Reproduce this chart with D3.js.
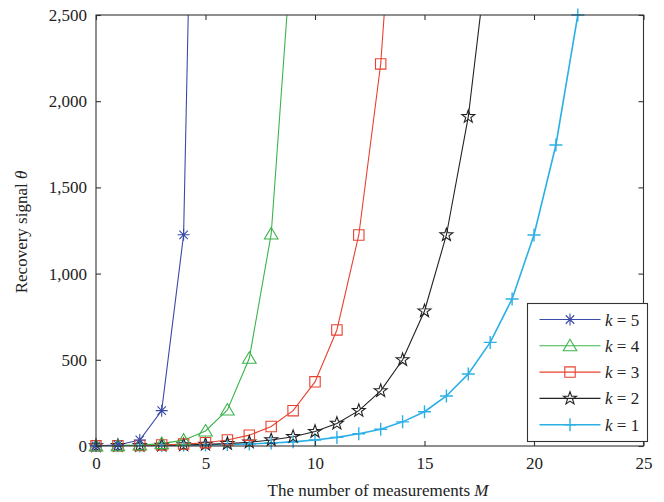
<!DOCTYPE html>
<html>
<head>
<meta charset="utf-8">
<script src="https://cdn.jsdelivr.net/npm/d3@7/dist/d3.min.js"></script>
<style>
  html, body { margin: 0; padding: 0; background: #fff; }
  svg { display: block; }
  text { font-family: "Liberation Serif", "Times New Roman", serif; fill: #222; }
</style>
</head>
<body>
<svg id="chart" width="664" height="502"></svg>
<script>
// Number of measurements M (x positions shared by every series)
const measurements = [0, 1, 2, 3, 4, 5, 6, 7, 8, 9, 10, 11, 12, 13, 14, 15, 16, 17, 18, 19, 20, 21, 22];

// Recovery signal θ for each sparsity level k (index = M)
const thetaK5 = [1, 6, 35, 205, 1225, 7250];
const thetaK4 = [1, 2.4, 6, 14, 34, 87, 209, 509, 1230, 3000];
const thetaK3 = [1, 1.8, 3.3, 6, 11, 19, 35, 63, 113, 205, 372, 673, 1224, 2216, 4010];
const thetaK2 = [1, 1.6, 2.4, 3.8, 5.9, 9.2, 14, 22, 35, 54, 84, 131, 205, 320, 500, 783, 1224, 1910, 2980];
const thetaK1 = [1, 1.4, 2, 2.9, 4.1, 5.9, 8.4, 12, 17, 24, 35, 50, 71, 97, 140, 199, 290, 418, 601, 853, 1224, 1746, 2500];

const seriesNames = ["5", "4", "3", "2", "1"];
const seriesColors = ["#3a4aa6", "#3cb44b", "#e8412f", "#222222", "#2bb0e6"];
const seriesMarkers = ["asterisk", "triangle", "square", "pentagram", "plus"];

const xTicks = [0, 5, 10, 15, 20, 25];
const yTicks = [0, 500, 1000, 1500, 2000, 2500];

const allSeries = [thetaK5, thetaK4, thetaK3, thetaK2, thetaK1].map((vals, i) => ({
  name: seriesNames[i],
  color: seriesColors[i],
  marker: seriesMarkers[i],
  width: i === 4 ? 1.6 : 1.1,
  points: vals.map((v, j) => ({ m: measurements[j], v: v }))
}));

const svg = d3.select("#chart");
const margin = { left: 96, right: 664 - 643.5, top: 15, bottom: 502 - 446 };
const W = 664 - margin.left - margin.right;
const H = 502 - margin.top - margin.bottom;

const x = d3.scaleLinear().domain([0, 25]).range([margin.left, margin.left + W]);
const y = d3.scaleLinear().domain([0, 2500]).range([margin.top + H, margin.top]);

// Marker shapes
function markerPath(type) {
  const p = d3.path();
  if (type === "asterisk") {
    const r = 6;
    for (let a = 0; a < 4; a++) {
      const ang = a * Math.PI / 4;
      p.moveTo(-r * Math.cos(ang), -r * Math.sin(ang));
      p.lineTo(r * Math.cos(ang), r * Math.sin(ang));
    }
  } else if (type === "triangle") {
    p.moveTo(0, -6.5); p.lineTo(6.8, 5); p.lineTo(-6.8, 5); p.closePath();
  } else if (type === "square") {
    p.rect(-5.2, -5.2, 10.4, 10.4);
  } else if (type === "pentagram") {
    const R = 6.8, r = 2.7;
    for (let i = 0; i < 10; i++) {
      const rad = i % 2 === 0 ? R : r;
      const ang = -Math.PI / 2 + i * Math.PI / 5;
      const px = rad * Math.cos(ang), py = rad * Math.sin(ang);
      if (i === 0) p.moveTo(px, py); else p.lineTo(px, py);
    }
    p.closePath();
  } else if (type === "plus") {
    const r = 6.5;
    p.moveTo(-r, 0); p.lineTo(r, 0);
    p.moveTo(0, -r); p.lineTo(0, r);
  }
  return p.toString();
}

svg.append("defs").append("clipPath").attr("id", "plotClip")
  .append("rect")
  .attr("x", margin.left).attr("y", margin.top)
  .attr("width", W).attr("height", H);

// Lines
const line = d3.line().x(d => x(d.m)).y(d => y(d.v));
const plot = svg.append("g");
plot.append("g").attr("clip-path", "url(#plotClip)")
  .selectAll("path.series")
  .data(allSeries.slice().reverse())
  .join("path")
  .attr("class", "series")
  .attr("d", d => line(d.points))
  .attr("fill", "none")
  .attr("stroke", d => d.color)
  .attr("stroke-width", d => d.width);

// Markers (only those inside the visible range)
allSeries.slice().reverse().forEach(s => {
  plot.append("g").selectAll("path")
    .data(s.points.filter(d => d.v <= 2500))
    .join("path")
    .attr("transform", d => `translate(${x(d.m)},${y(d.v)})`)
    .attr("d", markerPath(s.marker))
    .attr("fill", "none")
    .attr("stroke", s.color)
    .attr("stroke-width", s.marker === "plus" ? 1.4 : 1.1);
});

// Axes box with inward ticks on all four sides
const axisColor = "#333";
const tickLen = 5;
const axisG = svg.append("g");
axisG.append("rect")
  .attr("x", margin.left).attr("y", margin.top)
  .attr("width", W).attr("height", H)
  .attr("fill", "none").attr("stroke", axisColor).attr("stroke-width", 1.1);

const xAxisBottom = d3.axisBottom(x).tickValues(xTicks).tickSizeInner(-tickLen).tickSizeOuter(0).tickPadding(11).tickFormat(d3.format("d"));
const xAxisTop = d3.axisTop(x).tickValues(xTicks).tickSizeInner(-tickLen).tickSizeOuter(0).tickFormat("");
const yAxisLeft = d3.axisLeft(y).tickValues(yTicks).tickSizeInner(-tickLen).tickSizeOuter(0).tickPadding(9).tickFormat(d3.format(","));
const yAxisRight = d3.axisRight(y).tickValues(yTicks).tickSizeInner(-tickLen).tickSizeOuter(0).tickFormat("");

function styleAxis(g) {
  g.select(".domain").remove();
  g.selectAll(".tick line").attr("stroke", axisColor).attr("stroke-width", 1.1);
  g.selectAll(".tick text").attr("font-size", 17).attr("fill", "#222")
    .style("font-family", '"Liberation Serif", "Times New Roman", serif');
}

axisG.append("g").attr("transform", `translate(0,${margin.top + H})`).call(xAxisBottom).call(styleAxis);
axisG.append("g").attr("transform", `translate(0,${margin.top})`).call(xAxisTop).call(styleAxis);
axisG.append("g").attr("transform", `translate(${margin.left},0)`).call(yAxisLeft).call(styleAxis);
axisG.append("g").attr("transform", `translate(${margin.left + W},0)`).call(yAxisRight).call(styleAxis);

// Axis titles
const xTitle = svg.append("text")
  .attr("x", 378).attr("y", 496)
  .attr("text-anchor", "middle").attr("font-size", 17);
xTitle.append("tspan").text("The number of measurements ");
xTitle.append("tspan").attr("font-style", "italic").text("M");

const yTitle = svg.append("text")
  .attr("transform", "translate(27,232) rotate(-90)")
  .attr("text-anchor", "middle").attr("font-size", 17);
yTitle.append("tspan").text("Recovery signal ");
yTitle.append("tspan").attr("font-style", "italic").text("θ");

// Legend
const legend = svg.append("g");
const lgX = 527.5, lgY = 303.5, lgW = 120, lgH = 138;
legend.append("rect")
  .attr("x", lgX).attr("y", lgY).attr("width", lgW).attr("height", lgH)
  .attr("fill", "#fff").attr("stroke", axisColor).attr("stroke-width", 1.1);

allSeries.forEach((s, i) => {
  const cy = 319.5 + i * 26.3;
  const row = legend.append("g");
  row.append("line")
    .attr("x1", 539.5).attr("x2", 600.5).attr("y1", cy).attr("y2", cy)
    .attr("stroke", s.color).attr("stroke-width", s.width);
  row.append("path")
    .attr("transform", `translate(570,${cy})`)
    .attr("d", markerPath(s.marker))
    .attr("fill", "none").attr("stroke", s.color)
    .attr("stroke-width", s.marker === "plus" ? 1.4 : 1.1);
  const t = row.append("text")
    .attr("x", 605).attr("y", cy + 6).attr("font-size", 17);
  t.append("tspan").attr("font-style", "italic").text("k");
  t.append("tspan").text(" = " + s.name);
});
</script>
</body>
</html>
